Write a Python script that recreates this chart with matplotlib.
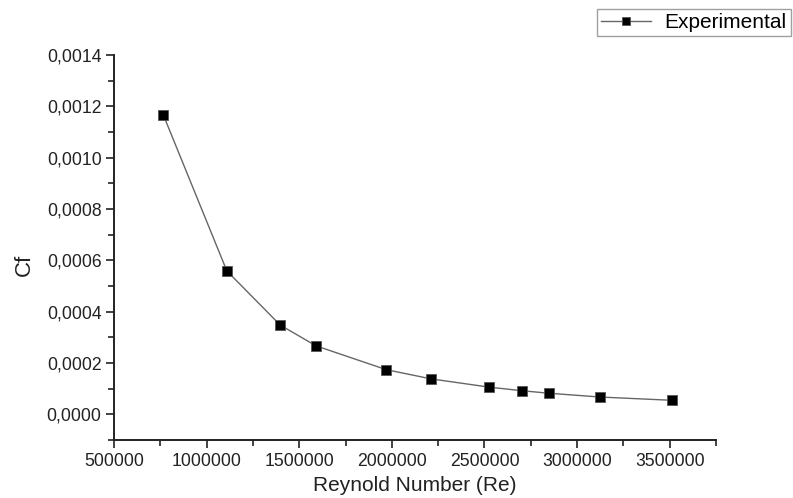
import matplotlib
matplotlib.use("Agg")
import matplotlib.pyplot as plt
from matplotlib.ticker import MultipleLocator, FuncFormatter

reynolds = [766000, 1109000, 1397000, 1590000, 1970000, 2213000,
            2525000, 2702000, 2851000, 3122000, 3514000]
cf = [0.001167, 0.000559, 0.000348, 0.000267, 0.000174, 0.000138,
      0.000106, 0.000092, 0.000082, 0.0000675, 0.0000546]
series_name = "Experimental"
x_label = "Reynold Number (Re)"
y_label = "Cf"

plt.rcParams['font.family'] = ['Liberation Sans', 'DejaVu Sans']

fig = plt.figure(figsize=(7.93, 4.98), dpi=100)
ax = fig.add_axes([114/793, 1-440/498, (716-114)/793, (440-55)/498])

ax.plot(reynolds, cf, color='#666666', linewidth=1.0, marker='s',
        markersize=6.8, markerfacecolor='black', markeredgecolor='#555555',
        markeredgewidth=0.6, label=series_name)

ax.set_xlim(500000, 3750000)
ax.set_ylim(-0.0001, 0.0014)
ax.xaxis.set_major_locator(MultipleLocator(500000))
ax.xaxis.set_minor_locator(MultipleLocator(250000))
ax.yaxis.set_major_locator(MultipleLocator(0.0002))
ax.yaxis.set_minor_locator(MultipleLocator(0.0001))
ax.xaxis.set_major_formatter(FuncFormatter(lambda v, p: f"{int(round(v))}"))
ax.yaxis.set_major_formatter(FuncFormatter(lambda v, p: f"{v:.4f}".replace('.', ',')))

for s in ['top', 'right']:
    ax.spines[s].set_visible(False)
for s in ['left', 'bottom']:
    ax.spines[s].set_linewidth(1.4)
    ax.spines[s].set_color('#222222')

ax.tick_params(which='major', direction='out', length=6, width=1.2,
               labelsize=12.7, colors='#222222', pad=3)
ax.tick_params(which='minor', direction='out', length=4, width=1.2, colors='#222222')

ax.set_xlabel(x_label, fontsize=15, color='#222222', labelpad=5)
ax.set_ylabel(y_label, fontsize=16, color='#222222')
ax.yaxis.set_label_coords(-0.132, 0.456)

leg = fig.legend(loc='upper left', bbox_to_anchor=(597/793, 1-9/498),
                 borderaxespad=0, fontsize=15, frameon=True, fancybox=False,
                 edgecolor='#888888', handlelength=2.4, borderpad=0.2,
                 handletextpad=0.65, markerscale=0.8)
leg.get_frame().set_linewidth(1.0)
leg.get_frame().set_boxstyle('square', pad=0)

fig.savefig("out.png", dpi=100)
